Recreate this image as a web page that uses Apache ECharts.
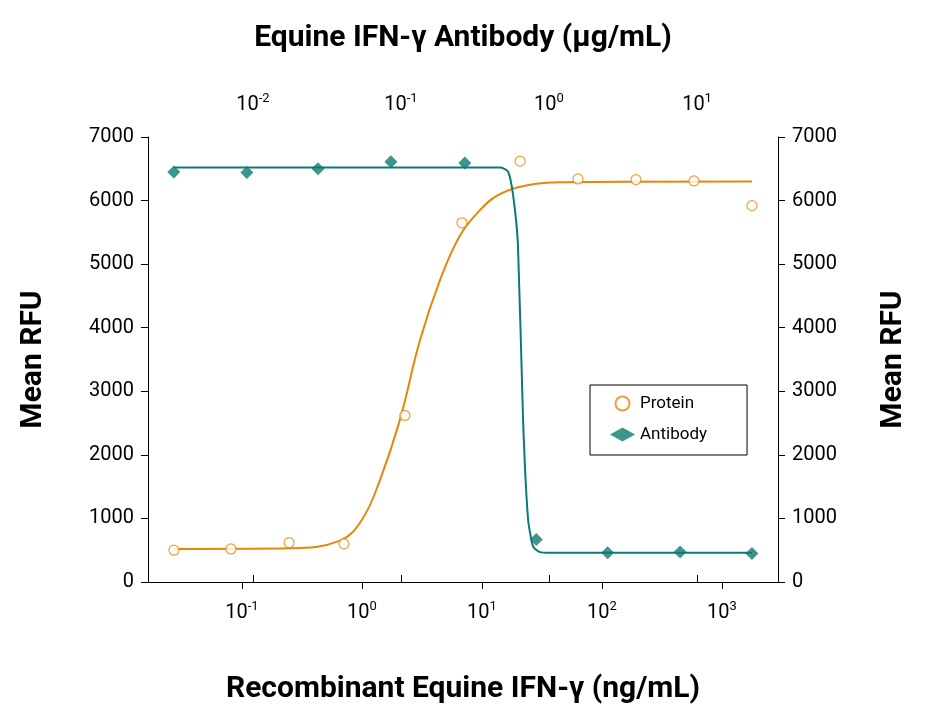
<!DOCTYPE html>
<html><head><meta charset="utf-8">
<script src="https://cdn.jsdelivr.net/npm/echarts@6/dist/echarts.min.js"></script>
<style>html,body{margin:0;background:#fff}#c{width:926px;height:719px}</style>
</head><body><div id="c"></div>
<script>
// 数据：蛋白（下轴 ng/mL）与抗体（上轴 µg/mL）
var proteinX = [0.0271, 0.0809, 0.247, 0.708, 2.28, 6.81, 20.8, 63.1, 192, 584, 1778];
var proteinY = [500, 520, 620, 600, 2620, 5650, 6620, 6340, 6330, 6310, 5920];
var antibodyX = [0.00292, 0.00910, 0.0275, 0.0855, 0.270, 0.820, 2.49, 7.68, 23.5];
var antibodyY = [6450, 6440, 6500, 6610, 6590, 670, 460, 470, 450];
// 拟合曲线
var proteinFitX = [0.0271, 0.251, 0.656, 1, 1.41, 2.07, 3.04, 4.47, 6.56, 9.62, 14.1, 25.1, 44.7, 1778];
var proteinFitY = [520, 530, 650, 980, 1600, 2550, 3800, 4750, 5450, 5850, 6100, 6250, 6290, 6300];
var antibodyFitX = [0.00292, 0.467, 0.528, 0.571, 0.617, 0.668, 0.721, 0.780, 0.869, 1.02, 23.5];
var antibodyFitY = [6520, 6520, 6460, 6100, 5300, 2550, 1000, 560, 470, 460, 460];
var yTicks = [0, 7000, 1000];

var orange = "#E8860C", teal = "#0E7A72";
var font = "'Liberation Sans Narrow', 'Roboto', sans-serif";
function zip(a, b) { return a.map(function (v, i) { return [v, b[i]]; }); }
function pow10(v) {
  var e = Math.round(Math.log10(v));
  return "10{s|" + e + "}";
}
var labelStyle = { fontFamily: font, fontSize: 20, color: "#000", showMinLabel: false, showMaxLabel: false,
  rich: { s: { fontFamily: font, fontSize: 13, verticalAlign: "top", padding: [0, 0, 12, 0] } } };
var titleStyle = { fontFamily: font, fontSize: 30, fontWeight: "bold", color: "#000" };
var yLabel = { fontFamily: font, fontSize: 20, color: "#000", margin: 14, formatter: function (v) { return String(v); } };

var myChart = echarts.init(document.getElementById("c"));
var option = {
  animation: false,
  grid: { left: 148, right: 148, top: 137, bottom: 137 },
  legend: {
    orient: "vertical", left: 590, top: 385, itemGap: 14,
    borderColor: "#000", borderWidth: 1, padding: [10, 40, 12, 20],
    textStyle: { fontFamily: font, fontSize: 17, color: "#000" },
    data: [{ name: "Protein", icon: "circle" }, { name: "Antibody", icon: "diamond" }]
  },
  xAxis: [
    { type: "log", position: "bottom", min: Math.pow(10, -1.783), max: Math.pow(10, 3.467),
      name: "Recombinant Equine IFN-γ (ng/mL)", nameLocation: "middle", nameGap: 92, nameTextStyle: titleStyle,
      axisLine: { lineStyle: { color: "#000" } }, axisTick: { length: 7, lineStyle: { color: "#000" } },
      axisLabel: Object.assign({ formatter: pow10, margin: 18 }, labelStyle),
      splitLine: { show: false } },
    { type: "log", position: "top", min: Math.pow(10, -2.709), max: Math.pow(10, 1.547),
      name: "Equine IFN-γ Antibody (μg/mL)", nameLocation: "middle", nameGap: 84, nameTextStyle: titleStyle,
      axisLine: { lineStyle: { color: "#000" } }, axisTick: { length: 7, lineStyle: { color: "#000" } },
      axisLabel: Object.assign({ formatter: pow10, margin: 20 }, labelStyle),
      splitLine: { show: false } }
  ],
  yAxis: [
    { type: "value", position: "left", min: yTicks[0], max: yTicks[1], interval: yTicks[2],
      name: "Mean RFU", nameLocation: "middle", nameGap: 100, nameTextStyle: titleStyle,
      axisLine: { show: true, lineStyle: { color: "#000" } }, axisTick: { show: true, length: 7, lineStyle: { color: "#000" } },
      axisLabel: yLabel, splitLine: { show: false } },
    { type: "value", position: "right", min: yTicks[0], max: yTicks[1], interval: yTicks[2],
      name: "Mean RFU", nameLocation: "middle", nameGap: 100, nameRotate: 90, nameTextStyle: titleStyle,
      axisLine: { show: true, lineStyle: { color: "#000" } }, axisTick: { show: true, length: 7, lineStyle: { color: "#000" } },
      axisLabel: yLabel, splitLine: { show: false } }
  ],
  series: [
    { name: "ProteinFit", type: "line", xAxisIndex: 0, data: zip(proteinFitX, proteinFitY), smooth: 0.4,
      showSymbol: false, lineStyle: { color: orange, width: 2 }, z: 1 },
    { name: "AntibodyFit", type: "line", xAxisIndex: 1, data: zip(antibodyFitX, antibodyFitY), smooth: 0.2,
      showSymbol: false, lineStyle: { color: teal, width: 2 }, z: 1 },
    { name: "Protein", type: "scatter", xAxisIndex: 0, data: zip(proteinX, proteinY), symbol: "circle", symbolSize: 10,
      itemStyle: { color: "#fff", borderColor: orange, borderWidth: 1.2 }, z: 3 },
    { name: "Antibody", type: "scatter", xAxisIndex: 1, data: zip(antibodyX, antibodyY), symbol: "diamond", symbolSize: 13,
      itemStyle: { color: teal }, z: 3 }
  ]
};
myChart.setOption(option);
</script></body></html>
